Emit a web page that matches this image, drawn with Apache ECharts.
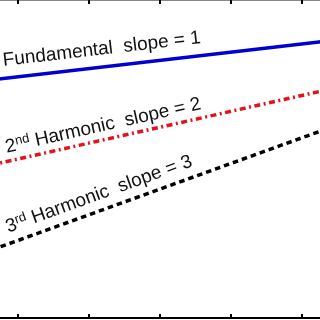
<!DOCTYPE html>
<html><head><meta charset="utf-8">
<script src="https://cdn.jsdelivr.net/npm/echarts@6/dist/echarts.min.js"></script>
<style>html,body{margin:0;padding:0;background:#fff;overflow:hidden;width:320px;height:320px}#c{position:absolute;left:-53px;top:0;width:426px;height:320px}</style>
</head><body><div id="c"></div>
<script>
// x: frequency (log axis, one decade per tick), y: level
const xEnds = [1, 1e6];
const fundamental = [29.3, 35.5];
const harmonic2 = [18.0, 30.0];
const harmonic3 = [6.53, 25.9];
const labelTexts = [
  '{b|Fundamental  slope = 1}',
  '{b|2}{s|nd}{b| Harmonic  slope = 2}',
  '{b|3}{s|rd}{b| Harmonic  slope = 3}'
];
const labelX = [6.35, 7.23, 7.7];
const labelY = [31.05, 20.15, 10.1];

const lines = [fundamental, harmonic2, harmonic3];
const chart = echarts.init(document.getElementById('c'), null, {renderer: 'canvas'});
const axisCommon = {
  type: 'log', logBase: 10, min: 1, max: 1e6,
  axisLabel: {show: false}, splitLine: {show: false}, minorTick: {show: false},
  axisTick: {show: true, inside: true, length: 4, lineStyle: {color: '#000', width: 2}}
};
const font = '"Liberation Sans", Arial, Helvetica, sans-serif';
chart.setOption({
  animation: false,
  backgroundColor: '#fff',
  grid: {left: 0, right: 0, top: 0, bottom: 2, containLabel: false},
  xAxis: [
    Object.assign({}, axisCommon, {position: 'bottom', axisLine: {show: true, lineStyle: {color: '#000', width: 2}}}),
    Object.assign({}, axisCommon, {position: 'top', axisLine: {show: true, lineStyle: {color: '#888', width: 2}}})
  ],
  yAxis: {type: 'value', min: 0, max: 40, axisLabel: {show: false}, splitLine: {show: false}, axisTick: {show: false}, axisLine: {show: true, lineStyle: {color: '#000', width: 2}}},
  series: [
    {type: 'line', xAxisIndex: 0, showSymbol: false, data: xEnds.map((x, i) => [x, fundamental[i]]),
     lineStyle: {color: '#0000d0', width: 3.5, type: 'solid'}},
    {type: 'line', xAxisIndex: 0, showSymbol: false, data: xEnds.map((x, i) => [x, harmonic2[i]]),
     lineStyle: {color: '#e4131b', width: 3.5, type: [6, 3.5, 2, 3.5]}},
    {type: 'line', xAxisIndex: 0, showSymbol: false, data: xEnds.map((x, i) => [x, harmonic3[i]]),
     lineStyle: {color: '#000', width: 3.5, type: [5.5, 4]}},
    {type: 'custom', xAxisIndex: 0, data: labelX.map((x, i) => [x, labelY[i], i]),
     encode: {x: 0, y: 1},
     renderItem: function (params, api) {
       const i = api.value(2);
       const p = api.coord([api.value(0), api.value(1)]);
       const a = api.coord([xEnds[0], lines[i][0]]);
       const b = api.coord([xEnds[1], lines[i][1]]);
       const ang = Math.atan2(-(b[1] - a[1]), b[0] - a[0]);
       return {
         type: 'text', x: p[0], y: p[1], rotation: ang,
         style: {
           text: labelTexts[i], fill: '#111', align: 'left', verticalAlign: 'bottom',
           rich: {
             b: {fontSize: 19, fontFamily: font, color: '#111', lineHeight: 21},
             s: {fontSize: 13, fontFamily: font, color: '#111', verticalAlign: 'top', lineHeight: 14}
           }
         }
       };
     }}
  ]
});
</script>
</body></html>
